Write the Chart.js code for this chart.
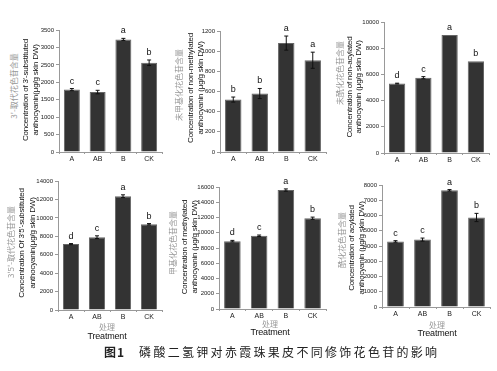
<!DOCTYPE html>
<html>
<head>
<meta charset="utf-8">
<script src="https://cdn.jsdelivr.net/npm/chart.js@4.4.0/dist/chart.umd.min.js"></script>
<style>
  body { margin: 0; background: #fff; width: 497px; height: 371px; position: relative; overflow: hidden; font-family: 'Liberation Sans', Arial, sans-serif; }
  .box { position: absolute; }
  .ytitle { position: absolute; white-space: nowrap; transform: translate(-50%, -50%) rotate(-90deg); }
  .en { font-size: 8px; color: #111; letter-spacing: -0.2px; }
  .zh { font-size: 8px; color: #999; font-family: 'Noto Sans CJK SC', sans-serif; }
  .xt { position: absolute; transform: translateX(-50%); white-space: nowrap; }
  #caption { position: absolute; left: 104px; top: 343px; font-family: 'Noto Sans CJK SC', serif; font-size: 12px; color: #222; white-space: nowrap; }
  #caption b { margin-right: 14px; letter-spacing: 1px; }
  #caption span { letter-spacing: 2.3px; }
</style>
</head>
<body>

<script>
// treatments
const categories = ['A', 'AB', 'B', 'CK'];

// 3'-substituted
const sub3Values = [1790, 1720, 3230, 2560];
const sub3Errors = [30, 50, 30, 80];
const sub3Letters = ['c', 'c', 'a', 'b'];

// non-methylated
const nonMethValues = [520, 580, 1080, 910];
const nonMethErrors = [25, 50, 70, 80];
const nonMethLetters = ['b', 'b', 'a', 'a'];

// non-acylated
const nonAcylValues = [5300, 5750, 9000, 7000];
const nonAcylErrors = [30, 80, 0, 0];
const nonAcylLetters = ['d', 'c', 'a', 'b'];

// 3'5'-substituted
const sub35Values = [7150, 7900, 12350, 9300];
const sub35Errors = [60, 150, 150, 80];
const sub35Letters = ['d', 'c', 'a', 'b'];

// methylated
const methValues = [8900, 9600, 15600, 11900];
const methErrors = [100, 100, 150, 150];
const methLetters = ['d', 'c', 'a', 'b'];

// acylated
const acylValues = [4300, 4420, 7650, 5870];
const acylErrors = [50, 100, 50, 270];
const acylLetters = ['c', 'c', 'a', 'b'];

// y axis ranges
const sub3Axis = [3500, 500];
const nonMethAxis = [1200, 200];
const nonAcylAxis = [10000, 2000];
const sub35Axis = [14000, 2000];
const methAxis = [16000, 2000];
const acylAxis = [8000, 1000];

// panels: axis x, top tick y, right end, zero y
const panels = [
  { values: sub3Values, errors: sub3Errors, letters: sub3Letters, axis: sub3Axis, area: [59, 30, 162, 152],
    zh: "3'-取代花色苷含量", en: ["Concentration of 3'-substituted", "anthocyanin(μg/g skin DW)"],
    zhPos: [13, 86], enPos: [[25, 90], [35, 90]] },
  { values: nonMethValues, errors: nonMethErrors, letters: nonMethLetters, axis: nonMethAxis, area: [220, 31, 326, 152],
    zh: "未甲基化花色苷含量", en: ["Concentration of non-methylated", "anthocyanin (μg/g skin DW)"],
    zhPos: [178, 85], enPos: [[190, 88], [200, 88]] },
  { values: nonAcylValues, errors: nonAcylErrors, letters: nonAcylLetters, axis: nonAcylAxis, area: [384, 22, 489, 153],
    zh: "未酰化花色苷含量", en: ["Concentration of non-acylated", "anthocyanin (μg/g skin DW)"],
    zhPos: [339, 73], enPos: [[349, 87], [358, 87]] },
  { values: sub35Values, errors: sub35Errors, letters: sub35Letters, axis: sub35Axis, area: [58, 181, 162, 310],
    zh: "3'5'-取代花色苷含量", en: ["Concentration Of 3'5'-substituted", "anthocyanin(μg/g skin DW)"],
    zhPos: [10, 242], enPos: [[21, 243], [32, 243]], xt: [107, 321, 331] },
  { values: methValues, errors: methErrors, letters: methLetters, axis: methAxis, area: [219, 187, 326, 309],
    zh: "甲基化花色苷含量", en: ["Concentration of methylated", "anthocyanin (μg/g skin DW)"],
    zhPos: [172, 243], enPos: [[184, 247], [194, 247]], xt: [270, 318, 327] },
  { values: acylValues, errors: acylErrors, letters: acylLetters, axis: acylAxis, area: [382, 185, 490, 307],
    zh: "酰化花色苷含量", en: ["Concentration of acylated", "anthocyanin (μg/g skin DW)"],
    zhPos: [341, 240], enPos: [[351, 248], [361, 248]], xt: [437, 319, 328] }
];

// error bars + significance letters
const markPlugin = {
  id: 'marks',
  afterDatasetsDraw(chart, args, opts) {
    const ctx = chart.ctx;
    const y = chart.scales.y;
    const meta = chart.getDatasetMeta(0);
    ctx.save();
    meta.data.forEach((bar, i) => {
      const v = opts.values[i], e = opts.errors[i];
      const top = y.getPixelForValue(v + e);
      const bot = y.getPixelForValue(v - e);
      if (e > 0) {
        ctx.strokeStyle = '#111';
        ctx.lineWidth = 1;
        ctx.beginPath();
        ctx.moveTo(bar.x, top); ctx.lineTo(bar.x, bot);
        ctx.moveTo(bar.x - 2, top); ctx.lineTo(bar.x + 2, top);
        ctx.moveTo(bar.x - 2, bot); ctx.lineTo(bar.x + 2, bot);
        ctx.stroke();
      }
      ctx.fillStyle = '#111';
      ctx.font = '9px "Liberation Sans", Arial';
      ctx.textAlign = 'center';
      ctx.textBaseline = 'bottom';
      ctx.fillText(opts.letters[i], bar.x, top - 3);
    });
    ctx.restore();
  }
};

const PAD = 22;

panels.forEach(p => {
  const [ax, ty, rx, zy] = p.area;
  const yW = 40, xH = 20;
  const box = document.createElement('div');
  box.className = 'box';
  const w = rx - ax + yW + 8;
  const h = zy - ty + PAD + xH;
  box.style.left = (ax - yW) + 'px';
  box.style.top = (ty - PAD) + 'px';
  box.style.width = w + 'px';
  box.style.height = h + 'px';
  const cv = document.createElement('canvas');
  box.appendChild(cv);
  document.body.appendChild(box);

  new Chart(cv, {
    type: 'bar',
    data: {
      labels: categories,
      datasets: [{
        data: p.values,
        backgroundColor: '#333',
        borderColor: '#666',
        borderWidth: 1,
        barPercentage: 0.62,
        categoryPercentage: 1
      }]
    },
    options: {
      responsive: true,
      maintainAspectRatio: false,
      animation: false,
      layout: { padding: { top: PAD, right: 8, left: 0, bottom: 0 } },
      plugins: {
        legend: { display: false },
        tooltip: { enabled: false },
        marks: { values: p.values, errors: p.errors, letters: p.letters }
      },
      scales: {
        x: {
          grid: { drawOnChartArea: false, drawTicks: true, tickLength: 2, color: '#999' },
          border: { color: '#999', width: 1 },
          ticks: { color: '#222', font: { size: 7, family: 'Liberation Sans' }, padding: 1 },
          afterFit(s) { s.height = xH; }
        },
        y: {
          min: 0,
          max: p.axis[0],
          grid: { drawOnChartArea: false, drawTicks: true, tickLength: 3, color: '#999' },
          border: { color: '#999', width: 1 },
          ticks: { stepSize: p.axis[1], color: '#222', font: { size: 6, family: 'Liberation Sans' }, padding: 2,
            callback: v => String(v) },
          afterFit(s) { s.width = yW; }
        }
      }
    },
    plugins: [markPlugin]
  });

  // y titles
  const zh = document.createElement('div');
  zh.className = 'ytitle zh';
  zh.textContent = p.zh;
  zh.style.left = p.zhPos[0] + 'px';
  zh.style.top = p.zhPos[1] + 'px';
  document.body.appendChild(zh);
  p.en.forEach((line, k) => {
    const d = document.createElement('div');
    d.className = 'ytitle en';
    d.textContent = line;
    d.style.left = p.enPos[k][0] + 'px';
    d.style.top = p.enPos[k][1] + 'px';
    document.body.appendChild(d);
  });

  // x titles for bottom row
  if (p.xt) {
    const a = document.createElement('div');
    a.className = 'xt zh';
    a.textContent = '处理';
    a.style.left = p.xt[0] + 'px';
    a.style.top = p.xt[1] + 'px';
    document.body.appendChild(a);
    const b = document.createElement('div');
    b.className = 'xt en';
    b.style.fontSize = '9px';
    b.textContent = 'Treatment';
    b.style.left = p.xt[0] + 'px';
    b.style.top = p.xt[2] + 'px';
    document.body.appendChild(b);
  }
});
</script>
<div id="caption"><b>图1</b><span>磷酸二氢钾对赤霞珠果皮不同修饰花色苷的影响</span></div>
</body>
</html>
